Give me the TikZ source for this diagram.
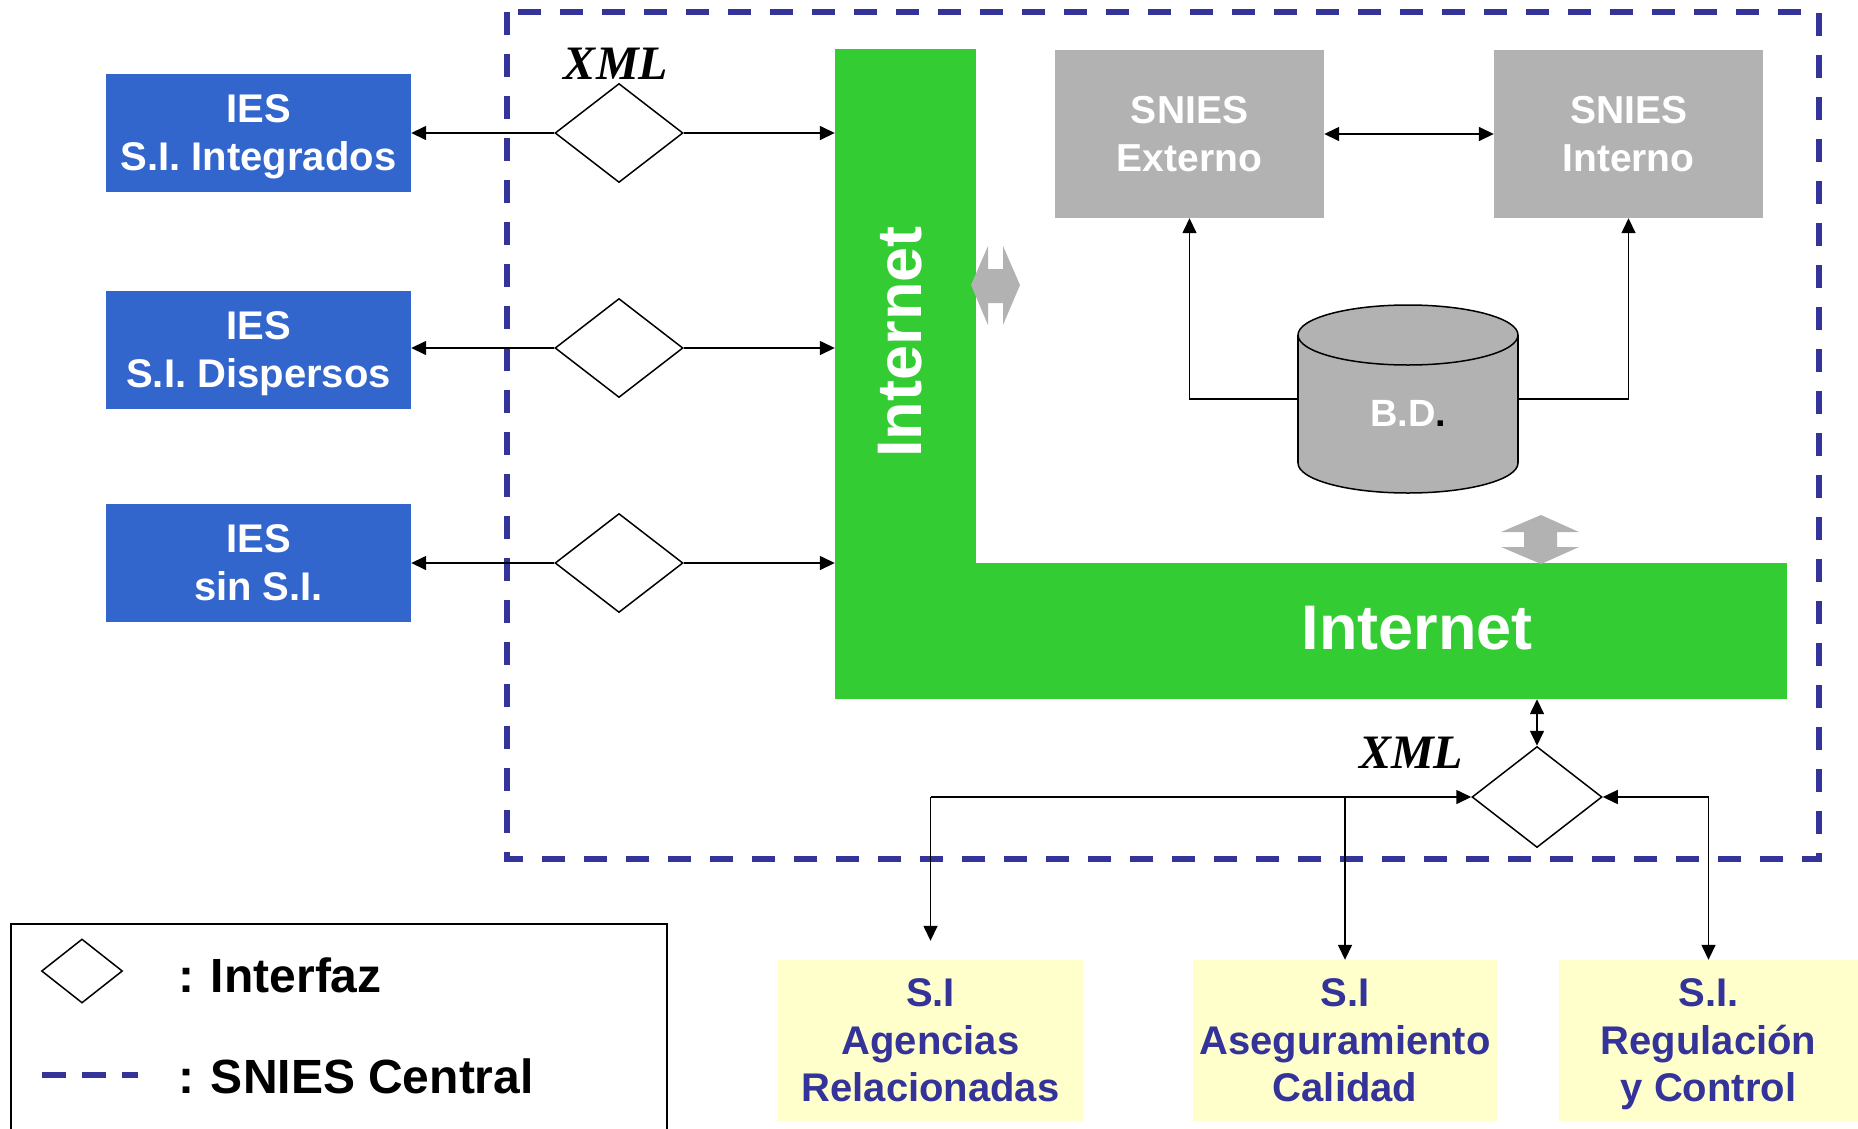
\documentclass[tikz,border=0pt]{standalone}
\usepackage{fontspec}
\setmainfont{Liberation Sans}
\newfontfamily\xmlfont{Liberation Serif}
\usetikzlibrary{shapes.geometric,arrows.meta}
\definecolor{iesblue}{HTML}{3366CC}
\definecolor{netgreen}{HTML}{33CC33}
\definecolor{boxgray}{HTML}{B2B2B2}
\definecolor{siyellow}{HTML}{FFFFCC}
\definecolor{darkblue}{HTML}{333399}
\begin{document}
\begin{tikzpicture}[x=1pt,y=-1pt,
  iesbox/.style={rectangle,fill=iesblue,text=white,minimum width=305pt,minimum height=118pt,inner sep=0pt,align=center,text depth=0pt,font=\fontsize{40}{48}\selectfont\bfseries},
  sniesbox/.style={rectangle,fill=boxgray,text=white,minimum width=269pt,minimum height=168pt,inner sep=0pt,align=center,text depth=0pt,font=\fontsize{39}{48.5}\selectfont\bfseries},
  sibox/.style={rectangle,fill=siyellow,text=darkblue,minimum height=161pt,inner sep=0pt,align=center,text depth=0pt,font=\fontsize{40}{47.5}\selectfont\bfseries},
  iface/.style={diamond,draw=black,fill=white,line width=1.5pt,minimum width=128pt,minimum height=99pt,inner sep=0pt,aspect=1.3},
  arr/.style={line width=1.5pt,-{Triangle[length=15pt,width=14pt]}},
  dbl/.style={line width=1.5pt,{Triangle[length=15pt,width=14pt]}-{Triangle[length=15pt,width=14pt]}},
  netbar/.style={rectangle,fill=netgreen,inner sep=0pt},
  nettext/.style={text=white,font=\fontsize{63}{63}\selectfont\bfseries,inner sep=0pt},
  xmllbl/.style={font=\fontsize{48}{48}\selectfont\xmlfont\bfseries\itshape,inner sep=0pt},
  grayarrow/.style={fill=boxgray},
  central/.style={draw=darkblue,line width=6pt,dash pattern=on 23pt off 19pt},
  legtext/.style={anchor=west,inner sep=0pt,font=\fontsize{48}{48}\selectfont\bfseries}
]
\useasboundingbox (0,0) rectangle (1858,1128);

% SNIES Central boundary
\draw[central] (507,12) rectangle (1819,859);

% Internet L-shape
\node[netbar,minimum width=141pt,minimum height=650pt] (inetv) at (905.5,374) {};
\node[netbar,minimum width=952pt,minimum height=136pt] (ineth) at (1311,631) {};
\node[nettext,rotate=90] (tv) at (900,342) {Internet};
\node[nettext] (th) at (1417,628) {Internet};

% IES boxes
\node[iesbox] (ies1) at (258.5,133) {IES\\S.I. Integrados};
\node[iesbox] (ies2) at (258.5,349.5) {IES\\S.I. Dispersos};
\node[iesbox] (ies3) at (258.5,562.5) {IES\\sin S.I.};

% interfaces
\node[iface] (d1) at (619,133) {};
\node[iface] (d2) at (619,348) {};
\node[iface] (d3) at (619,563) {};
\node[xmllbl] (x1) at (616,64) {XML};

\draw[arr] (d1.west) -- (d1.west -| ies1.east);
\draw[arr] (d1.east) -- (d1.east -| inetv.west);
\draw[arr] (d2.west) -- (d2.west -| ies2.east);
\draw[arr] (d2.east) -- (d2.east -| inetv.west);
\draw[arr] (d3.west) -- (d3.west -| ies3.east);
\draw[arr] (d3.east) -- (d3.east -| inetv.west);

% SNIES boxes
\node[sniesbox] (sx) at (1189.5,134) {SNIES\\Externo};
\node[sniesbox] (si) at (1628.5,134) {SNIES\\Interno};
\draw[dbl] (sx.east) -- (si.west);

% Database cylinder
\node[rectangle,minimum width=220pt,minimum height=188pt,inner sep=0pt] (bd) at (1408,399) {};
\filldraw[fill=boxgray,draw=black,line width=1.5pt] (1408,463) ellipse[x radius=110,y radius=30];
\fill[boxgray] (1298,335) rectangle (1518,463);
\draw[line width=1.5pt] (1298,335) -- (1298,463) (1518,335) -- (1518,463);
\filldraw[fill=boxgray,draw=black,line width=1.5pt] (1408,335) ellipse[x radius=110,y radius=30];
\node[inner sep=0pt,font=\fontsize{38}{38}\selectfont\bfseries] (bdt) at (1408,413) {\textcolor{white}{B.D}.};
\draw[arr] (bd.west) -| (sx.south);
\draw[arr] (bd.east) -| (si.south);

% gray double arrows
\fill[grayarrow] (971,285) -- (988,246) -- (988,269) -- (1003,269) -- (1003,246) -- (1020,285) -- (1003,325) -- (1003,303) -- (988,303) -- (988,325) -- cycle;
\fill[grayarrow] (1541,515) -- (1579,532) -- (1557,532) -- (1557,547) -- (1579,547) -- (1541,564) -- (1501,547) -- (1524,547) -- (1524,532) -- (1501,532) -- cycle;

% bottom interface
\node[iface,minimum width=130pt,minimum height=101pt] (d4) at (1537,797) {};
\node[xmllbl] (x2) at (1411,753) {XML};
\draw[dbl] (d4.north |- ineth.south) -- (d4.north);

% SI boxes
\node[sibox,minimum width=305pt] (ag) at (930.5,1040.5) {S.I\\Agencias\\Relacionadas};
\node[sibox,minimum width=304pt] (as) at (1345,1040.5) {S.I\\Aseguramiento\\Calidad};
\node[sibox,minimum width=299pt] (rg) at (1708.5,1040.5) {S.I.\\Regulación\\y Control};

\coordinate (ja) at (930.5,797);
\draw[arr] (ja) -- (d4.west);
\draw[arr,shorten >=19pt] (ja) -- (ag.north);
\draw[arr] (as.north |- d4.west) -- (as.north);
\draw[dbl] (rg.north) |- (d4.east);

% legend
\draw[line width=2pt] (11,1132) -- (11,924) -- (667,924) -- (667,1132);
\node[diamond,draw=black,line width=1.5pt,minimum width=81pt,minimum height=64pt,inner sep=0pt] (legd) at (82,971) {};
\coordinate (lda) at (42,1075);
\coordinate (ldb) at (138,1075);
\draw[central,dash pattern=on 24pt off 16pt] (lda) -- (ldb);
\node[legtext] (l1) at (178,975) {:\hspace{0.35em}Interfaz};
\node[legtext] (l2) at (178,1076) {:\hspace{0.35em}SNIES Central};
\end{tikzpicture}
\end{document}
